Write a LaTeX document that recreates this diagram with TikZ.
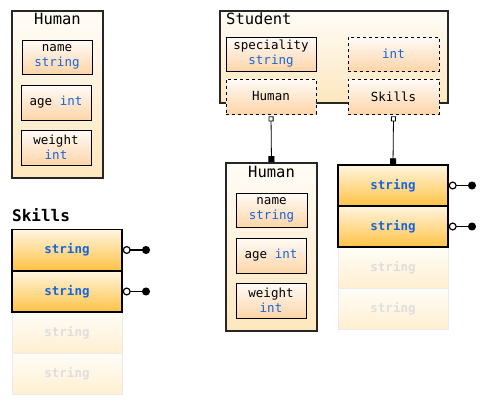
\documentclass[tikz,border=0pt]{standalone}
\usepackage{fontspec}
\setmainfont{DejaVu Sans Mono}
\usetikzlibrary{arrows.meta}
\definecolor{typeblue}{RGB}{21,101,220}
\definecolor{outertop}{RGB}{255,252,247}
\definecolor{outerbot}{RGB}{253,231,190}
\definecolor{innertop}{RGB}{255,251,248}
\definecolor{innerbot}{RGB}{253,213,168}
\definecolor{arrtop}{RGB}{255,245,224}
\definecolor{arrbot}{RGB}{255,194,69}
\definecolor{fadetop}{RGB}{255,253,248}
\definecolor{fadebot}{RGB}{255,239,208}
\definecolor{fadeline}{RGB}{235,235,235}
\definecolor{fadetext}{RGB}{222,222,222}
\newcommand{\ty}[1]{\textcolor{typeblue}{#1}}
\tikzset{
  outerbox/.style={draw=black!85, line width=1.6pt, top color=outertop, bottom color=outerbot, shape=rectangle, inner sep=0pt},
  fieldbox/.style={draw=black, line width=0.8pt, top color=innertop, bottom color=innerbot, shape=rectangle, align=center, inner sep=0pt, font=\fontsize{12.5}{15}\selectfont},
  refbox/.style={fieldbox, dashed},
  cellbox/.style={draw=black, line width=1.4pt, top color=arrtop, bottom color=arrbot, shape=rectangle, minimum width=110pt, minimum height=41pt, inner sep=0pt, font=\fontsize{12.5}{15}\selectfont\bfseries, text=typeblue},
  fadebox/.style={draw=fadeline, line width=1pt, top color=fadetop, bottom color=fadebot, shape=rectangle, minimum width=110pt, minimum height=41pt, inner sep=0pt, font=\fontsize{12.5}{15}\selectfont\bfseries, text=fadetext},
  titletext/.style={font=\fontsize{15.5}{18}\selectfont, inner sep=0pt},
  link/.style={line width=0.8pt, {Square[open, length=5pt, width=5pt]}-{Square[length=6pt, width=6pt]}},
  handle/.style={line width=1.2pt, {Circle[open, length=8pt, width=8pt]}-{Circle[length=8pt, width=8pt]}}
}
\begin{document}
\begin{tikzpicture}[x=1pt, y=-1pt]
\useasboundingbox (0,0) rectangle (489,407);

% left Human
\node[outerbox, minimum width=91pt, minimum height=167pt] (hum_l) at (57.5,94.5) {};
\node[titletext, anchor=base] (hum_l_t) at (57.5,24) {Human};
\node[fieldbox, minimum width=70pt, minimum height=34pt] (hum_l_1) at (57,57) {name\\\ty{string}};
\node[fieldbox, minimum width=70pt, minimum height=35pt] (hum_l_2) at (56,102.5) {age \ty{int}};
\node[fieldbox, minimum width=70pt, minimum height=35pt] (hum_l_3) at (56,147.5) {weight\\\ty{int}};

% Student
\node[outerbox, minimum width=228pt, minimum height=92pt] (stu) at (334,57) {};
\node[titletext, anchor=base west] (stu_t) at (226,24) {Student};
\node[fieldbox, minimum width=90pt, minimum height=34pt] (stu_1) at (271,54) {speciality\\\ty{string}};
\node[refbox, minimum width=91pt, minimum height=34pt] (stu_2) at (393.5,54) {\ty{int}};
\node[refbox, minimum width=90pt, minimum height=35pt] (stu_3) at (271,96.5) {Human};
\node[refbox, minimum width=91pt, minimum height=35pt] (stu_4) at (393.5,96.5) {Skills};

% middle Human
\node[outerbox, minimum width=91pt, minimum height=168pt] (hum_m) at (271.5,247) {};
\node[titletext, anchor=base] (hum_m_t) at (271.5,177) {Human};
\node[fieldbox, minimum width=71pt, minimum height=34pt] (hum_m_1) at (271.5,210) {name\\\ty{string}};
\node[fieldbox, minimum width=70pt, minimum height=35pt] (hum_m_2) at (271,255.5) {age \ty{int}};
\node[fieldbox, minimum width=70pt, minimum height=35pt] (hum_m_3) at (271,300.5) {weight\\\ty{int}};

% right Skills
\node[fadebox] (sk_r_3) at (393,308.5) {string};
\node[fadebox] (sk_r_2) at (393,267.5) {string};
\node[cellbox] (sk_r_1) at (393,226.5) {string};
\node[cellbox] (sk_r_0) at (393,185.5) {string};

% left Skills
\node[titletext, font=\fontsize{16}{18}\selectfont\bfseries, anchor=base west] (sk_l_t) at (12,221) {Skills};
\node[fadebox] (sk_l_3) at (67,374) {string};
\node[fadebox] (sk_l_2) at (67,332.5) {string};
\node[cellbox] (sk_l_1) at (67,291.5) {string};
\node[cellbox] (sk_l_0) at (67,250) {string};

\coordinate (h_l_0) at (150,250);
\coordinate (h_l_1) at (150,291.5);
\coordinate (h_r_0) at (476,185.5);
\coordinate (h_r_1) at (476,226.5);

\draw[link] ([yshift=-2pt]stu_3.south) -- (hum_m.north);
\draw[link] ([yshift=-2pt]stu_4.south) -- (sk_r_0.north);

\draw[handle] (sk_l_0.east) -- (h_l_0);
\draw[handle] (sk_l_1.east) -- (h_l_1);
\draw[handle] (sk_r_0.east) -- (h_r_0);
\draw[handle] (sk_r_1.east) -- (h_r_1);
\end{tikzpicture}
\end{document}
